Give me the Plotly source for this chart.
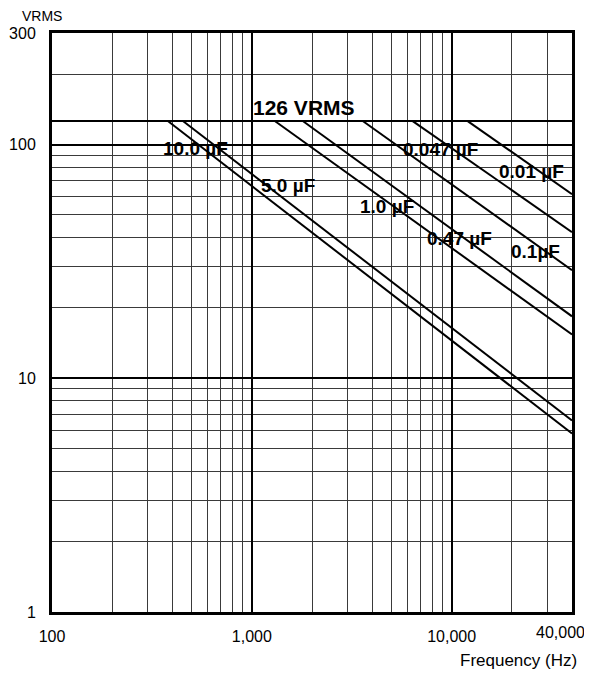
import math
import plotly.graph_objects as go

# ---- data ----
capacitance_labels = ["10.0 µF", "5.0 µF", "1.0 µF", "0.47 µF", "0.1µF", "0.047 µF", "0.01 µF"]
start_freq_hz = [380, 452, 1303, 1799, 3589, 6383, 12023]   # where each line leaves the 126 VRMS limit
end_freq_hz = [40000, 40000, 40000, 40000, 40000, 40000, 40000]
end_vrms = [5.8, 6.6, 15.4, 18.4, 29.0, 42.2, 61.3]
vrms_limit = 126
limit_freq_range = [100, 40000]

x_tick_vals = [100, 1000, 10000]
x_tick_text = ["100", "1,000", "10,000"]
x_last_tick = 40000
x_last_text = "40,000"
y_tick_vals = [1, 10, 100, 300]
y_tick_text = ["1", "10", "100", "300"]

x_minor = [200, 300, 400, 500, 600, 700, 800, 900,
           2000, 3000, 4000, 5000, 6000, 7000, 8000, 9000, 20000, 30000]
y_minor = [2, 3, 4, 5, 6, 7, 8, 9, 20, 30, 40, 50, 60, 70, 80, 90, 200]

# label anchor positions (Hz, VRMS)
label_freq = [525, 1514, 4732, 10965, 26300, 8810, 25119]
label_vrms = [96.5, 67, 54.5, 39.7, 34.9, 95.5, 76.9]
limit_label = "126 VRMS"
limit_label_pos = (1820, 144.5)

FONT = "Liberation Sans, Arial, sans-serif"

fig = go.Figure()

fig.add_trace(go.Scatter(
    x=limit_freq_range, y=[vrms_limit, vrms_limit], mode="lines",
    line=dict(color="black", width=2), showlegend=False, hoverinfo="skip"))

for name, f0, f1, v1 in zip(capacitance_labels, start_freq_hz, end_freq_hz, end_vrms):
    fig.add_trace(go.Scatter(
        x=[f0, f1], y=[vrms_limit, v1], mode="lines", name=name,
        line=dict(color="black", width=2), showlegend=False))

annotations = []
for name, f, v in zip(capacitance_labels, label_freq, label_vrms):
    annotations.append(dict(
        x=math.log10(f), y=math.log10(v), xref="x", yref="y", text="<b>%s</b>" % name,
        showarrow=False, font=dict(family=FONT, size=19, color="black")))
annotations.append(dict(
    x=math.log10(limit_label_pos[0]), y=math.log10(limit_label_pos[1]), xref="x", yref="y",
    text="<b>%s</b>" % limit_label, showarrow=False,
    font=dict(family=FONT, size=21, color="black")))
annotations.append(dict(
    x=math.log10(x_last_tick), y=0, xref="x", yref="paper", yanchor="top", xanchor="right",
    xshift=15, yshift=-10, text=x_last_text, showarrow=False,
    font=dict(family=FONT, size=16, color="black")))
annotations.append(dict(
    x=0, y=1, xref="paper", yref="paper", xanchor="center", yanchor="bottom",
    xshift=-10, yshift=7, text="VRMS", showarrow=False,
    font=dict(family=FONT, size=14, color="black")))
annotations.append(dict(
    x=1, y=0, xref="paper", yref="paper", xanchor="right", yanchor="top",
    xshift=7, yshift=-37, text="Frequency (Hz)", showarrow=False,
    font=dict(family=FONT, size=17, color="black")))

# the page adds an 8px body margin, so the figure is sized to fit inside it
fig.update_layout(
    width=584, height=667,
    margin=dict(l=44, r=20, t=25, b=63),
    paper_bgcolor="white", plot_bgcolor="white",
    font=dict(family=FONT, size=16, color="black"),
    annotations=annotations,
    xaxis=dict(
        type="log", range=[2, math.log10(40000)], automargin=False,
        tickmode="array", tickvals=x_tick_vals, ticktext=x_tick_text,
        ticks="", showgrid=True, gridcolor="black", gridwidth=2,
        showline=True, linecolor="black", linewidth=3, mirror=True,
        zeroline=False, ticklabelstandoff=8,
        minor=dict(tickmode="array", tickvals=x_minor, showgrid=True,
                   gridcolor="#3a3a3a", gridwidth=1, ticks=""),
    ),
    yaxis=dict(
        type="log", range=[0, math.log10(300)], automargin=False,
        tickmode="array", tickvals=y_tick_vals, ticktext=y_tick_text,
        ticks="", showgrid=True, gridcolor="black", gridwidth=2,
        showline=True, linecolor="black", linewidth=3, mirror=True,
        zeroline=False, ticklabelstandoff=10,
        minor=dict(tickmode="array", tickvals=y_minor, showgrid=True,
                   gridcolor="#3a3a3a", gridwidth=1, ticks=""),
    ),
)

fig.write_html("out.html")
